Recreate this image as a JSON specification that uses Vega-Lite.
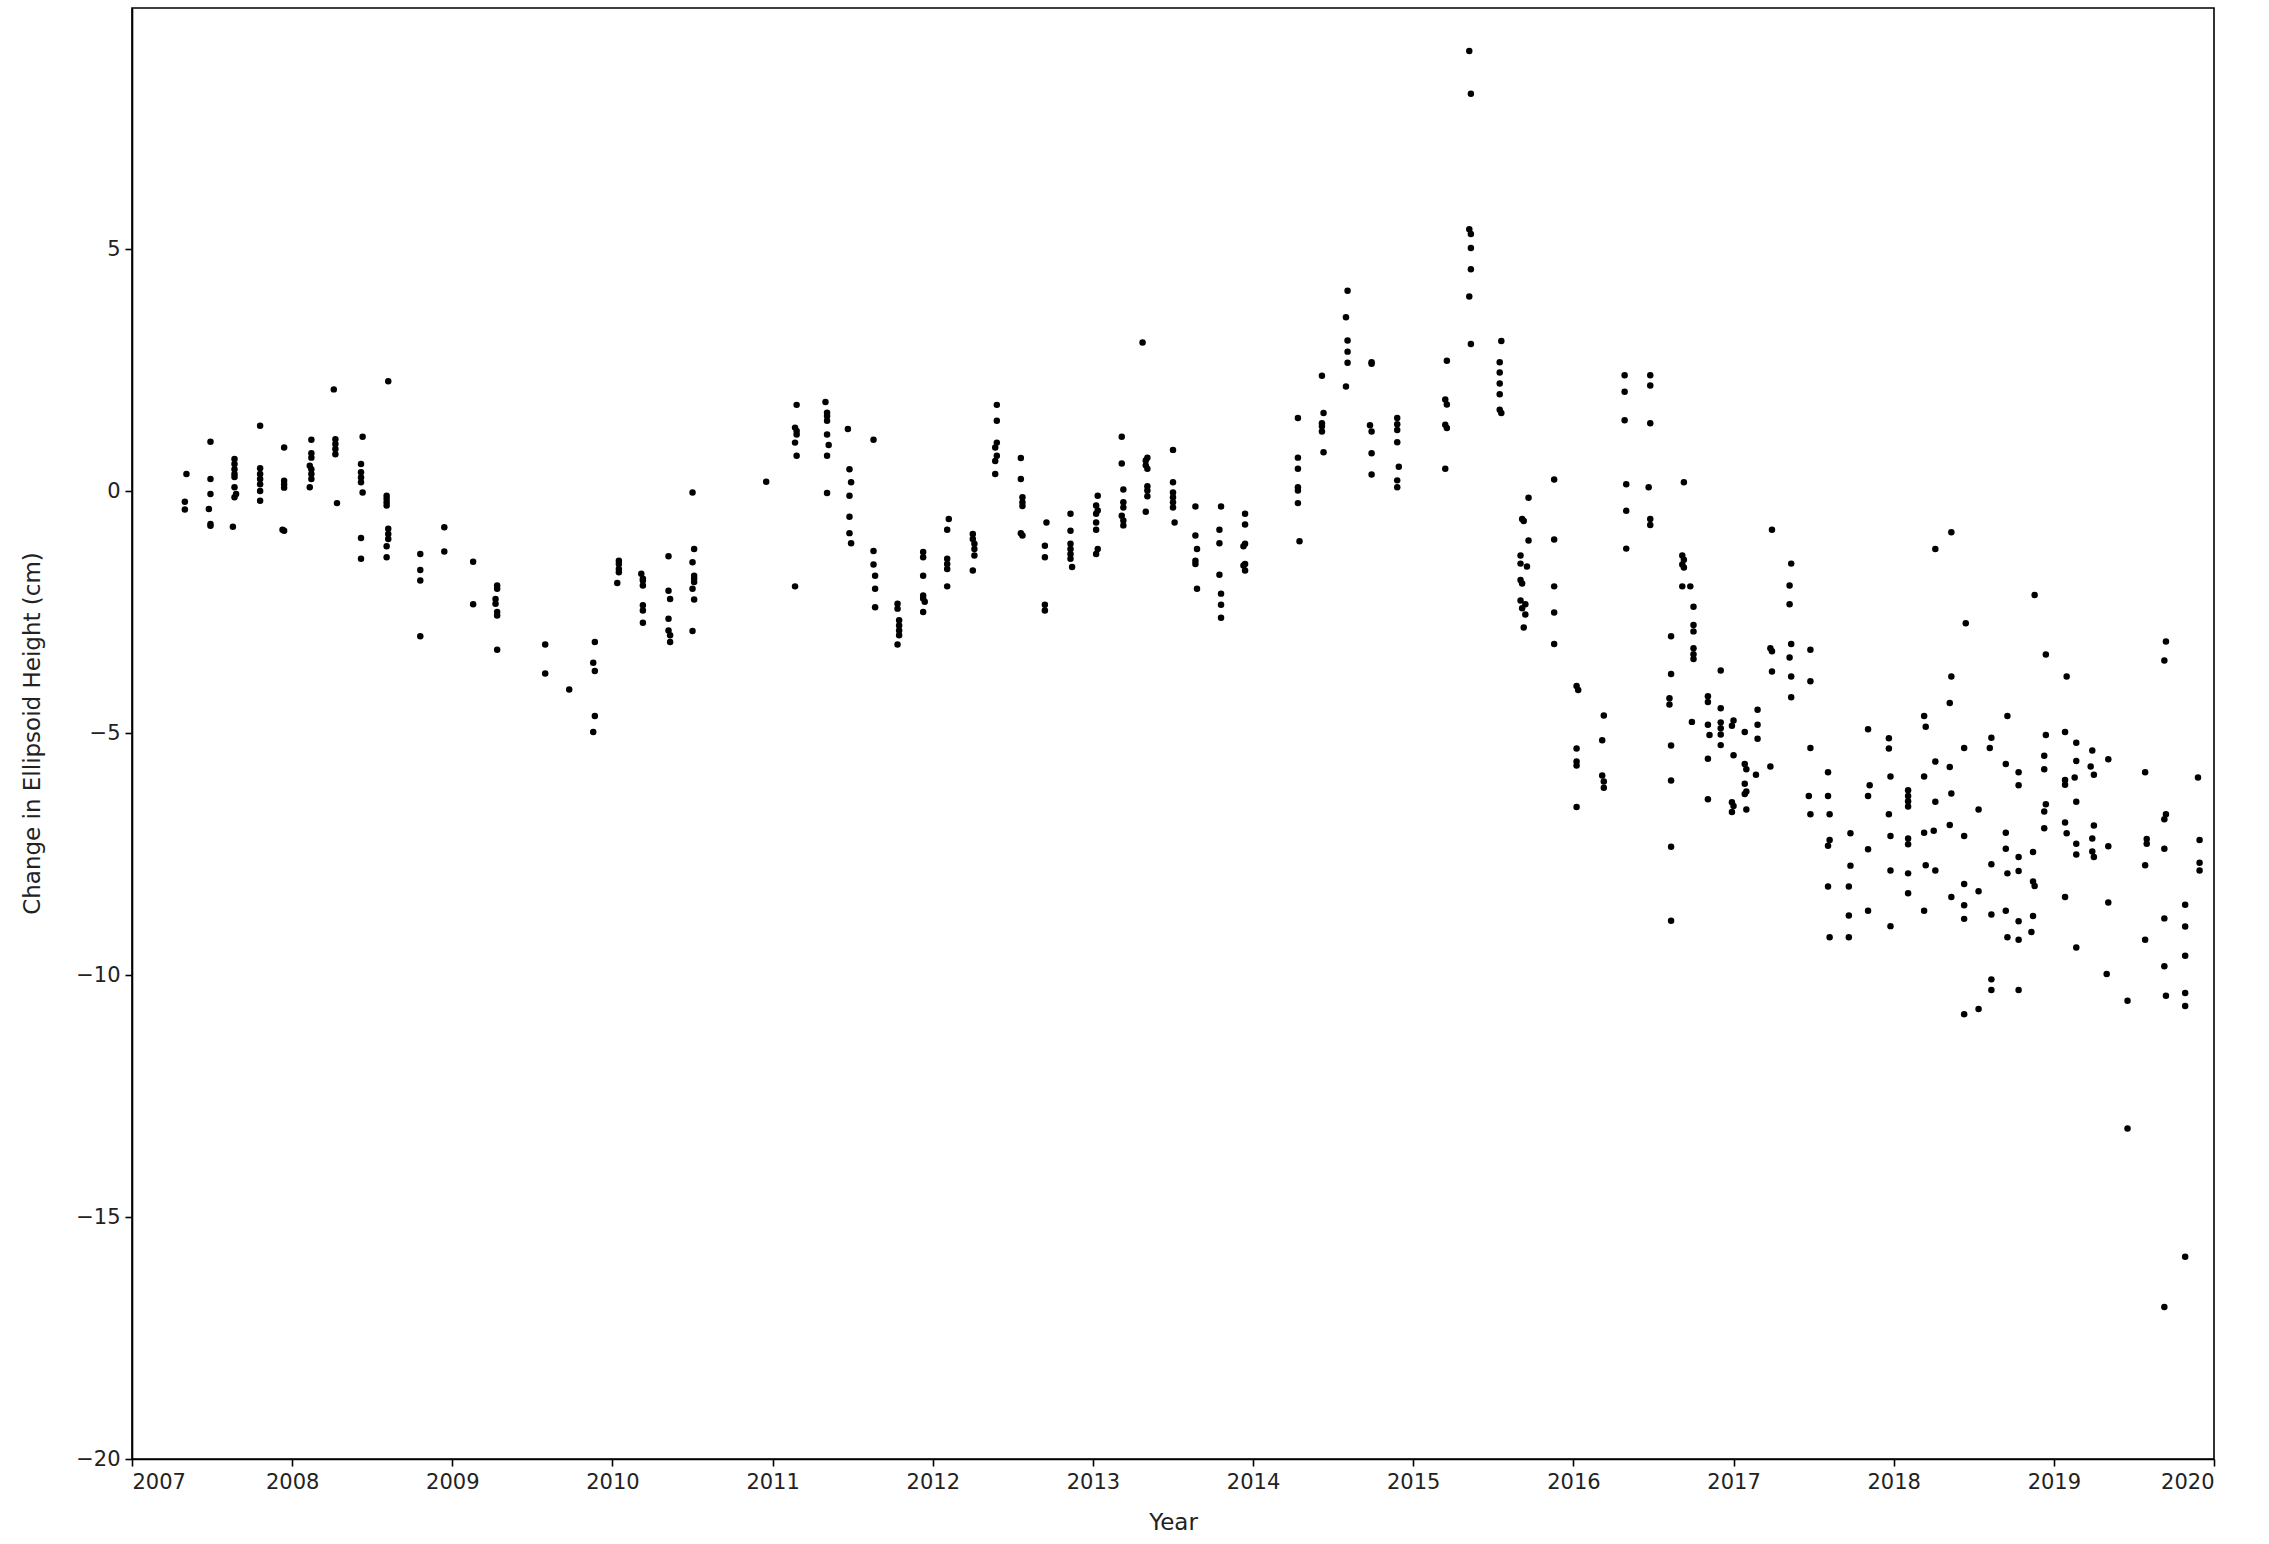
{
"$schema":"https://vega.github.io/schema/vega-lite/v6.json",
"width":2082,"height":1451,
"autosize":{"type":"none"},
"padding":{"left":132,"top":8,"right":55,"bottom":85},
"background":"white",
"config":{"view":{"stroke":"black","strokeWidth":1.6},"font":"DejaVu Sans"},
"data":{"values":[
{"year":2007.34,"dh":0.35},{"year":2007.33,"dh":-0.22},{"year":2007.33,"dh":-0.38},
{"year":2007.49,"dh":1.02},{"year":2007.49,"dh":0.25},{"year":2007.49,"dh":-0.06},{"year":2007.48,"dh":-0.37},{"year":2007.49,"dh":-0.68},{"year":2007.49,"dh":-0.72},
{"year":2007.64,"dh":0.66},{"year":2007.64,"dh":0.56},{"year":2007.64,"dh":0.45},{"year":2007.64,"dh":0.35},{"year":2007.64,"dh":0.29},{"year":2007.64,"dh":0.08},{"year":2007.65,"dh":-0.06},{"year":2007.64,"dh":-0.13},{"year":2007.63,"dh":-0.74},
{"year":2007.8,"dh":1.35},{"year":2007.8,"dh":0.47},{"year":2007.8,"dh":0.35},{"year":2007.8,"dh":0.25},{"year":2007.8,"dh":0.14},{"year":2007.8,"dh":0.0},{"year":2007.8,"dh":-0.2},
{"year":2007.95,"dh":0.9},{"year":2007.95,"dh":0.21},{"year":2007.95,"dh":0.14},{"year":2007.95,"dh":0.07},{"year":2007.94,"dh":-0.8},{"year":2007.95,"dh":-0.82},
{"year":2008.12,"dh":1.06},{"year":2008.12,"dh":0.78},{"year":2008.12,"dh":0.69},{"year":2008.11,"dh":0.52},{"year":2008.12,"dh":0.45},{"year":2008.12,"dh":0.35},{"year":2008.12,"dh":0.25},{"year":2008.11,"dh":0.08},
{"year":2008.26,"dh":2.1},{"year":2008.27,"dh":1.07},{"year":2008.27,"dh":0.97},{"year":2008.27,"dh":0.87},{"year":2008.27,"dh":0.76},{"year":2008.28,"dh":-0.25},
{"year":2008.44,"dh":1.12},{"year":2008.43,"dh":0.56},{"year":2008.43,"dh":0.39},{"year":2008.43,"dh":0.28},{"year":2008.43,"dh":0.18},{"year":2008.44,"dh":-0.03},{"year":2008.43,"dh":-0.97},{"year":2008.43,"dh":-1.4},
{"year":2008.6,"dh":2.27},{"year":2008.59,"dh":-0.1},{"year":2008.59,"dh":-0.16},{"year":2008.59,"dh":-0.23},{"year":2008.59,"dh":-0.3},{"year":2008.6,"dh":-0.78},{"year":2008.6,"dh":-0.89},{"year":2008.6,"dh":-0.99},{"year":2008.59,"dh":-1.14},{"year":2008.59,"dh":-1.37},
{"year":2008.8,"dh":-1.3},{"year":2008.8,"dh":-1.63},{"year":2008.8,"dh":-1.85},{"year":2008.8,"dh":-3.0},
{"year":2008.95,"dh":-0.75},{"year":2008.95,"dh":-1.25},
{"year":2009.13,"dh":-1.46},{"year":2009.13,"dh":-2.34},
{"year":2009.28,"dh":-1.95},{"year":2009.28,"dh":-2.02},{"year":2009.27,"dh":-2.23},{"year":2009.27,"dh":-2.33},{"year":2009.28,"dh":-2.5},{"year":2009.28,"dh":-2.57},{"year":2009.28,"dh":-3.28},
{"year":2009.58,"dh":-3.17},{"year":2009.58,"dh":-3.77},
{"year":2009.73,"dh":-4.1},
{"year":2009.89,"dh":-3.12},{"year":2009.88,"dh":-3.55},{"year":2009.89,"dh":-3.72},{"year":2009.89,"dh":-4.65},{"year":2009.88,"dh":-4.98},
{"year":2010.04,"dh":-1.44},{"year":2010.04,"dh":-1.51},{"year":2010.04,"dh":-1.61},{"year":2010.04,"dh":-1.68},{"year":2010.03,"dh":-1.9},
{"year":2010.18,"dh":-1.71},{"year":2010.19,"dh":-1.81},{"year":2010.19,"dh":-1.85},{"year":2010.19,"dh":-1.95},{"year":2010.19,"dh":-2.36},{"year":2010.19,"dh":-2.47},{"year":2010.19,"dh":-2.72},
{"year":2010.35,"dh":-1.35},{"year":2010.35,"dh":-2.06},{"year":2010.36,"dh":-2.23},{"year":2010.35,"dh":-2.64},{"year":2010.35,"dh":-2.88},{"year":2010.36,"dh":-2.98},{"year":2010.36,"dh":-3.12},
{"year":2010.5,"dh":-0.03},{"year":2010.51,"dh":-1.2},{"year":2010.5,"dh":-1.47},{"year":2010.51,"dh":-1.75},{"year":2010.51,"dh":-1.81},{"year":2010.51,"dh":-1.88},{"year":2010.5,"dh":-2.02},{"year":2010.51,"dh":-2.24},{"year":2010.5,"dh":-2.89},
{"year":2010.96,"dh":0.19},
{"year":2011.14,"dh":-1.97},{"year":2011.15,"dh":1.78},{"year":2011.14,"dh":1.31},{"year":2011.15,"dh":1.24},{"year":2011.15,"dh":1.17},{"year":2011.14,"dh":1.0},{"year":2011.15,"dh":0.73},
{"year":2011.33,"dh":1.84},{"year":2011.34,"dh":1.62},{"year":2011.34,"dh":1.55},{"year":2011.34,"dh":1.45},{"year":2011.34,"dh":1.17},{"year":2011.35,"dh":0.95},{"year":2011.34,"dh":0.73},{"year":2011.34,"dh":-0.04},
{"year":2011.47,"dh":1.28},{"year":2011.48,"dh":0.45},{"year":2011.49,"dh":0.18},{"year":2011.48,"dh":-0.1},{"year":2011.48,"dh":-0.53},{"year":2011.48,"dh":-0.87},{"year":2011.49,"dh":-1.08},
{"year":2011.63,"dh":1.06},{"year":2011.63,"dh":-1.24},{"year":2011.63,"dh":-1.52},{"year":2011.64,"dh":-1.75},{"year":2011.64,"dh":-2.02},{"year":2011.64,"dh":-2.4},
{"year":2011.78,"dh":-2.33},{"year":2011.78,"dh":-2.43},{"year":2011.79,"dh":-2.67},{"year":2011.79,"dh":-2.78},{"year":2011.79,"dh":-2.88},{"year":2011.79,"dh":-2.98},{"year":2011.78,"dh":-3.17},
{"year":2011.94,"dh":-1.26},{"year":2011.94,"dh":-1.37},{"year":2011.94,"dh":-1.75},{"year":2011.94,"dh":-2.16},{"year":2011.94,"dh":-2.22},{"year":2011.95,"dh":-2.29},{"year":2011.94,"dh":-2.5},
{"year":2012.1,"dh":-0.58},{"year":2012.09,"dh":-0.8},{"year":2012.09,"dh":-1.4},{"year":2012.09,"dh":-1.51},{"year":2012.09,"dh":-1.61},{"year":2012.09,"dh":-1.97},
{"year":2012.25,"dh":-0.89},{"year":2012.25,"dh":-0.99},{"year":2012.26,"dh":-1.09},{"year":2012.26,"dh":-1.2},{"year":2012.26,"dh":-1.33},{"year":2012.25,"dh":-1.64},
{"year":2012.4,"dh":1.78},{"year":2012.4,"dh":1.45},{"year":2012.4,"dh":1.0},{"year":2012.39,"dh":0.9},{"year":2012.4,"dh":0.73},{"year":2012.39,"dh":0.62},{"year":2012.39,"dh":0.35},
{"year":2012.55,"dh":0.68},{"year":2012.55,"dh":0.25},{"year":2012.56,"dh":-0.13},{"year":2012.56,"dh":-0.23},{"year":2012.56,"dh":-0.31},{"year":2012.55,"dh":-0.87},{"year":2012.56,"dh":-0.92},
{"year":2012.71,"dh":-0.65},{"year":2012.7,"dh":-1.13},{"year":2012.7,"dh":-1.37},{"year":2012.7,"dh":-2.35},{"year":2012.7,"dh":-2.47},
{"year":2012.86,"dh":-0.47},{"year":2012.86,"dh":-0.82},{"year":2012.86,"dh":-1.09},{"year":2012.86,"dh":-1.2},{"year":2012.86,"dh":-1.3},{"year":2012.86,"dh":-1.4},{"year":2012.87,"dh":-1.57},
{"year":2013.03,"dh":-0.1},{"year":2013.02,"dh":-0.3},{"year":2013.03,"dh":-0.4},{"year":2013.02,"dh":-0.47},{"year":2013.02,"dh":-0.65},{"year":2013.02,"dh":-0.8},{"year":2013.03,"dh":-1.2},{"year":2013.02,"dh":-1.3},
{"year":2013.18,"dh":1.12},{"year":2013.18,"dh":0.57},{"year":2013.19,"dh":0.03},{"year":2013.19,"dh":-0.23},{"year":2013.19,"dh":-0.34},{"year":2013.18,"dh":-0.51},{"year":2013.19,"dh":-0.61},{"year":2013.19,"dh":-0.71},
{"year":2013.31,"dh":3.07},{"year":2013.34,"dh":0.69},{"year":2013.33,"dh":0.63},{"year":2013.33,"dh":0.53},{"year":2013.34,"dh":0.46},{"year":2013.34,"dh":0.1},{"year":2013.34,"dh":0.01},{"year":2013.34,"dh":-0.11},{"year":2013.33,"dh":-0.43},
{"year":2013.5,"dh":0.85},{"year":2013.5,"dh":0.18},{"year":2013.5,"dh":-0.03},{"year":2013.5,"dh":-0.13},{"year":2013.5,"dh":-0.23},{"year":2013.5,"dh":-0.34},{"year":2013.51,"dh":-0.65},
{"year":2013.64,"dh":-0.32},{"year":2013.64,"dh":-0.92},{"year":2013.65,"dh":-1.2},{"year":2013.64,"dh":-1.44},{"year":2013.64,"dh":-1.51},{"year":2013.65,"dh":-2.02},
{"year":2013.8,"dh":-0.32},{"year":2013.79,"dh":-0.8},{"year":2013.79,"dh":-1.08},{"year":2013.79,"dh":-1.73},{"year":2013.8,"dh":-2.12},{"year":2013.8,"dh":-2.35},{"year":2013.8,"dh":-2.62},
{"year":2013.95,"dh":-0.47},{"year":2013.95,"dh":-0.69},{"year":2013.95,"dh":-1.09},{"year":2013.94,"dh":-1.14},{"year":2013.95,"dh":-1.51},{"year":2013.94,"dh":-1.54},{"year":2013.95,"dh":-1.64},
{"year":2014.28,"dh":1.51},{"year":2014.28,"dh":0.69},{"year":2014.28,"dh":0.46},{"year":2014.28,"dh":0.08},{"year":2014.28,"dh":0.01},{"year":2014.28,"dh":-0.25},{"year":2014.29,"dh":-1.04},
{"year":2014.43,"dh":2.38},{"year":2014.44,"dh":1.61},{"year":2014.43,"dh":1.4},{"year":2014.43,"dh":1.34},{"year":2014.43,"dh":1.23},{"year":2014.44,"dh":0.8},
{"year":2014.59,"dh":4.14},{"year":2014.58,"dh":3.59},{"year":2014.59,"dh":3.11},{"year":2014.59,"dh":2.88},{"year":2014.59,"dh":2.65},{"year":2014.58,"dh":2.16},
{"year":2014.74,"dh":2.66},{"year":2014.74,"dh":2.63},{"year":2014.73,"dh":1.36},{"year":2014.74,"dh":1.23},{"year":2014.74,"dh":0.78},{"year":2014.74,"dh":0.34},
{"year":2014.9,"dh":1.51},{"year":2014.9,"dh":1.38},{"year":2014.9,"dh":1.26},{"year":2014.9,"dh":1.01},{"year":2014.91,"dh":0.5},{"year":2014.9,"dh":0.22},{"year":2014.9,"dh":0.08},
{"year":2015.21,"dh":2.69},{"year":2015.2,"dh":1.89},{"year":2015.21,"dh":1.79},{"year":2015.2,"dh":1.37},{"year":2015.21,"dh":1.3},{"year":2015.2,"dh":0.46},
{"year":2015.35,"dh":9.09},{"year":2015.36,"dh":8.21},{"year":2015.35,"dh":5.41},{"year":2015.36,"dh":5.31},{"year":2015.36,"dh":5.02},{"year":2015.36,"dh":4.58},{"year":2015.35,"dh":4.02},{"year":2015.36,"dh":3.04},
{"year":2015.55,"dh":3.1},{"year":2015.54,"dh":2.66},{"year":2015.54,"dh":2.45},{"year":2015.54,"dh":2.22},{"year":2015.54,"dh":2.0},{"year":2015.54,"dh":1.68},{"year":2015.55,"dh":1.61},
{"year":2015.72,"dh":-0.14},{"year":2015.68,"dh":-0.58},{"year":2015.69,"dh":-0.62},{"year":2015.72,"dh":-1.02},{"year":2015.67,"dh":-1.33},{"year":2015.67,"dh":-1.5},{"year":2015.71,"dh":-1.56},{"year":2015.67,"dh":-1.84},{"year":2015.68,"dh":-1.91},{"year":2015.67,"dh":-2.26},{"year":2015.7,"dh":-2.34},{"year":2015.68,"dh":-2.42},{"year":2015.7,"dh":-2.55},{"year":2015.69,"dh":-2.82},
{"year":2015.88,"dh":0.24},{"year":2015.88,"dh":-1.0},{"year":2015.88,"dh":-1.97},{"year":2015.88,"dh":-2.51},{"year":2015.88,"dh":-3.16},
{"year":2016.02,"dh":-4.03},{"year":2016.03,"dh":-4.11},{"year":2016.02,"dh":-5.32},{"year":2016.02,"dh":-5.59},{"year":2016.02,"dh":-5.67},{"year":2016.02,"dh":-6.53},
{"year":2016.19,"dh":-4.64},{"year":2016.18,"dh":-5.15},{"year":2016.18,"dh":-5.88},{"year":2016.19,"dh":-6.0},{"year":2016.19,"dh":-6.13},
{"year":2016.32,"dh":2.39},{"year":2016.32,"dh":2.05},{"year":2016.32,"dh":1.46},{"year":2016.33,"dh":0.14},{"year":2016.33,"dh":-0.41},{"year":2016.33,"dh":-1.19},
{"year":2016.48,"dh":2.39},{"year":2016.48,"dh":2.18},{"year":2016.48,"dh":1.4},{"year":2016.47,"dh":0.08},{"year":2016.48,"dh":-0.58},{"year":2016.48,"dh":-0.7},
{"year":2016.61,"dh":-3.0},{"year":2016.61,"dh":-3.78},{"year":2016.6,"dh":-4.28},{"year":2016.6,"dh":-4.41},{"year":2016.61,"dh":-5.26},{"year":2016.61,"dh":-5.98},{"year":2016.61,"dh":-7.35},{"year":2016.61,"dh":-8.88},
{"year":2016.69,"dh":0.18},{"year":2016.68,"dh":-1.33},{"year":2016.69,"dh":-1.42},{"year":2016.68,"dh":-1.52},{"year":2016.69,"dh":-1.58},{"year":2016.68,"dh":-1.97},
{"year":2016.73,"dh":-1.97},{"year":2016.75,"dh":-2.39},{"year":2016.75,"dh":-2.77},{"year":2016.75,"dh":-2.9},{"year":2016.75,"dh":-3.25},{"year":2016.75,"dh":-3.37},{"year":2016.75,"dh":-3.47},{"year":2016.74,"dh":-4.77},
{"year":2016.84,"dh":-4.24},{"year":2016.84,"dh":-4.36},{"year":2016.84,"dh":-4.83},{"year":2016.85,"dh":-5.04},{"year":2016.84,"dh":-5.53},{"year":2016.84,"dh":-6.37},
{"year":2016.92,"dh":-3.71},{"year":2016.92,"dh":-4.49},{"year":2016.92,"dh":-4.78},{"year":2016.92,"dh":-4.9},{"year":2016.92,"dh":-5.03},{"year":2016.92,"dh":-5.25},
{"year":2017.0,"dh":-4.74},{"year":2016.99,"dh":-4.85},{"year":2017.0,"dh":-5.46},{"year":2016.99,"dh":-6.43},{"year":2017.0,"dh":-6.51},{"year":2016.99,"dh":-6.63},
{"year":2017.07,"dh":-4.98},{"year":2017.07,"dh":-5.64},{"year":2017.08,"dh":-5.75},{"year":2017.07,"dh":-6.05},{"year":2017.08,"dh":-6.21},{"year":2017.07,"dh":-6.26},{"year":2017.08,"dh":-6.58},
{"year":2017.15,"dh":-4.52},{"year":2017.15,"dh":-4.83},{"year":2017.15,"dh":-5.12},{"year":2017.14,"dh":-5.86},
{"year":2017.24,"dh":-0.8},{"year":2017.23,"dh":-3.25},{"year":2017.24,"dh":-3.31},{"year":2017.24,"dh":-3.73},{"year":2017.23,"dh":-5.69},
{"year":2017.36,"dh":-1.5},{"year":2017.35,"dh":-1.95},{"year":2017.35,"dh":-2.34},{"year":2017.36,"dh":-3.16},{"year":2017.35,"dh":-3.44},{"year":2017.36,"dh":-3.83},{"year":2017.36,"dh":-4.26},
{"year":2017.48,"dh":-3.28},{"year":2017.48,"dh":-3.93},{"year":2017.48,"dh":-5.31},{"year":2017.47,"dh":-6.3},{"year":2017.48,"dh":-6.68},
{"year":2017.59,"dh":-5.81},{"year":2017.59,"dh":-6.3},{"year":2017.6,"dh":-6.68},{"year":2017.6,"dh":-7.21},{"year":2017.59,"dh":-7.33},{"year":2017.59,"dh":-8.17},{"year":2017.6,"dh":-9.22},
{"year":2017.73,"dh":-7.07},{"year":2017.73,"dh":-7.74},{"year":2017.72,"dh":-8.17},{"year":2017.72,"dh":-8.77},{"year":2017.72,"dh":-9.22},
{"year":2017.84,"dh":-4.92},{"year":2017.85,"dh":-6.08},{"year":2017.84,"dh":-6.3},{"year":2017.84,"dh":-7.4},{"year":2017.84,"dh":-8.67},
{"year":2017.97,"dh":-5.11},{"year":2017.97,"dh":-5.32},{"year":2017.98,"dh":-5.9},{"year":2017.97,"dh":-6.68},{"year":2017.98,"dh":-7.13},{"year":2017.98,"dh":-7.84},{"year":2017.98,"dh":-8.99},
{"year":2018.09,"dh":-6.18},{"year":2018.09,"dh":-6.3},{"year":2018.09,"dh":-6.41},{"year":2018.09,"dh":-6.52},{"year":2018.09,"dh":-7.18},{"year":2018.09,"dh":-7.3},{"year":2018.09,"dh":-7.9},{"year":2018.09,"dh":-8.31},
{"year":2018.19,"dh":-4.65},{"year":2018.2,"dh":-4.87},{"year":2018.19,"dh":-5.9},{"year":2018.19,"dh":-7.06},{"year":2018.2,"dh":-7.73},{"year":2018.19,"dh":-8.67},
{"year":2018.26,"dh":-1.2},{"year":2018.26,"dh":-5.59},{"year":2018.26,"dh":-6.42},{"year":2018.25,"dh":-7.02},{"year":2018.26,"dh":-7.84},
{"year":2018.36,"dh":-0.85},{"year":2018.36,"dh":-3.83},{"year":2018.35,"dh":-4.38},{"year":2018.35,"dh":-5.7},{"year":2018.36,"dh":-6.25},{"year":2018.35,"dh":-6.9},{"year":2018.36,"dh":-8.39},
{"year":2018.45,"dh":-2.73},{"year":2018.44,"dh":-5.31},{"year":2018.44,"dh":-7.13},{"year":2018.44,"dh":-8.12},{"year":2018.44,"dh":-8.56},{"year":2018.44,"dh":-8.84},{"year":2018.44,"dh":-10.81},
{"year":2018.53,"dh":-6.58},{"year":2018.53,"dh":-8.27},{"year":2018.53,"dh":-10.7},
{"year":2018.61,"dh":-5.1},{"year":2018.6,"dh":-5.31},{"year":2018.61,"dh":-7.71},{"year":2018.61,"dh":-8.75},{"year":2018.61,"dh":-10.09},{"year":2018.61,"dh":-10.31},
{"year":2018.71,"dh":-4.65},{"year":2018.7,"dh":-5.64},{"year":2018.7,"dh":-7.06},{"year":2018.7,"dh":-7.39},{"year":2018.71,"dh":-7.9},{"year":2018.7,"dh":-8.67},{"year":2018.71,"dh":-9.22},
{"year":2018.78,"dh":-5.81},{"year":2018.78,"dh":-6.08},{"year":2018.78,"dh":-7.56},{"year":2018.78,"dh":-7.85},{"year":2018.78,"dh":-8.89},{"year":2018.78,"dh":-9.27},{"year":2018.78,"dh":-10.31},
{"year":2018.88,"dh":-2.15},{"year":2018.87,"dh":-7.46},{"year":2018.87,"dh":-8.07},{"year":2018.88,"dh":-8.16},{"year":2018.87,"dh":-8.78},{"year":2018.86,"dh":-9.11},
{"year":2018.95,"dh":-3.38},{"year":2018.95,"dh":-5.04},{"year":2018.94,"dh":-5.47},{"year":2018.94,"dh":-5.75},{"year":2018.95,"dh":-6.47},{"year":2018.94,"dh":-6.62},{"year":2018.94,"dh":-6.97},
{"year":2019.08,"dh":-3.83},{"year":2019.07,"dh":-4.98},{"year":2019.07,"dh":-5.97},{"year":2019.07,"dh":-6.07},{"year":2019.07,"dh":-6.85},{"year":2019.08,"dh":-7.07},{"year":2019.07,"dh":-8.39},
{"year":2019.14,"dh":-5.2},{"year":2019.14,"dh":-5.58},{"year":2019.13,"dh":-5.92},{"year":2019.14,"dh":-6.42},{"year":2019.14,"dh":-7.29},{"year":2019.14,"dh":-7.51},{"year":2019.14,"dh":-9.43},
{"year":2019.24,"dh":-5.36},{"year":2019.23,"dh":-5.69},{"year":2019.25,"dh":-5.86},{"year":2019.25,"dh":-6.91},{"year":2019.24,"dh":-7.18},{"year":2019.24,"dh":-7.45},{"year":2019.25,"dh":-7.56},
{"year":2019.34,"dh":-5.54},{"year":2019.34,"dh":-7.34},{"year":2019.34,"dh":-8.5},{"year":2019.33,"dh":-9.98},
{"year":2019.46,"dh":-10.53},{"year":2019.46,"dh":-13.17},
{"year":2019.57,"dh":-5.81},{"year":2019.58,"dh":-7.19},{"year":2019.58,"dh":-7.29},{"year":2019.57,"dh":-7.73},{"year":2019.57,"dh":-9.27},
{"year":2019.7,"dh":-3.11},{"year":2019.69,"dh":-3.5},{"year":2019.7,"dh":-6.68},{"year":2019.69,"dh":-6.78},{"year":2019.69,"dh":-7.39},{"year":2019.69,"dh":-8.83},{"year":2019.69,"dh":-9.82},{"year":2019.7,"dh":-10.43},{"year":2019.69,"dh":-16.86},
{"year":2019.82,"dh":-8.55},{"year":2019.82,"dh":-9.0},{"year":2019.82,"dh":-9.6},{"year":2019.82,"dh":-10.37},{"year":2019.82,"dh":-10.64},{"year":2019.82,"dh":-15.82},
{"year":2019.9,"dh":-5.92},{"year":2019.91,"dh":-7.21},{"year":2019.91,"dh":-7.68},{"year":2019.91,"dh":-7.84}
]},
"mark":{"type":"circle","color":"black","size":42,"opacity":1},
"encoding":{
"x":{"field":"year","type":"quantitative","scale":{"domain":[2007,2020],"nice":false,"zero":false},
"axis":{"title":"Year","values":[2007,2008,2009,2010,2011,2012,2013,2014,2015,2016,2017,2018,2019,2020],"format":"d","grid":false,"tickSize":7,"tickWidth":1.6,"tickColor":"black","domainColor":"black","domainWidth":1.6,"labelFontSize":21,"labelColor":"#222222","labelPadding":5,"labelFont":"DejaVu Sans","titleFont":"DejaVu Sans","titleFontSize":23,"titleFontWeight":"normal","titleColor":"#222222","titleY":63,"titleBaseline":"middle"}},
"y":{"field":"dh","type":"quantitative","scale":{"domain":[-20,9.98],"nice":false,"zero":false},
"axis":{"title":"Change in Ellipsoid Height (cm)","values":[-20,-15,-10,-5,0,5],"grid":false,"tickSize":7,"tickWidth":1.6,"tickColor":"black","domainColor":"black","domainWidth":1.6,"labelFontSize":21,"labelColor":"#222222","labelPadding":5,"labelFont":"DejaVu Sans","titleFont":"DejaVu Sans","titleFontSize":23,"titleFontWeight":"normal","titleColor":"#222222","titleX":-100,"titleY":725,"titleAngle":270,"titleAlign":"center","titleBaseline":"middle"}}
}
}
